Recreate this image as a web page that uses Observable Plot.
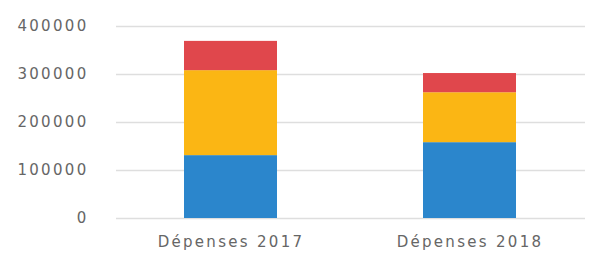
<!DOCTYPE html>
<html>
<head>
<meta charset="utf-8">
<script src="https://cdn.jsdelivr.net/npm/d3@7"></script>
<script src="https://cdn.jsdelivr.net/npm/@observablehq/plot@0.6"></script>
<style>
  html, body { margin: 0; padding: 0; background: #fff; }
  #chart svg { display: block; }
  #chart text { letter-spacing: 2.3px; }
</style>
</head>
<body>
<div id="chart"></div>
<script>
const categories = ["Dépenses 2017", "Dépenses 2018"];
const seriesNames = ["Série 1", "Série 2", "Série 3"];
const serie1 = [131000, 158000];
const serie2 = [177000, 104000];
const serie3 = [61000, 40000];
const yTicks = [0, 100000, 200000, 300000, 400000];
const colors = ["#2B86CC", "#FBB614", "#E0474C"];

const seriesValues = [serie1, serie2, serie3];
const rows = [];
seriesNames.forEach((s, i) => {
  categories.forEach((c, j) => {
    rows.push({category: c, series: s, value: seriesValues[i][j]});
  });
});

const chart = Plot.plot({
  width: 590,
  height: 259,
  marginLeft: 116,
  marginRight: 5,
  marginTop: 26,
  marginBottom: 41,
  style: {fontFamily: "DejaVu Sans", fontSize: "15px", color: "#666", background: "#fff"},
  x: {domain: categories, paddingInner: 0.61, paddingOuter: 0.286, label: null},
  y: {domain: [0, 400000], label: null},
  color: {domain: seriesNames, range: colors},
  marks: [
    Plot.gridY(yTicks, {stroke: "#dedede", strokeOpacity: 1, strokeWidth: 1.5}),
    Plot.barY(rows, {x: "category", y: "value", fill: "series"}),
    Plot.axisY(yTicks, {tickSize: 0, tickPadding: 28, tickFormat: d => String(d), label: null, fill: "#666"}),
    Plot.axisX({tickSize: 0, tickPadding: 18, label: null, fill: "#666"})
  ]
});
document.getElementById("chart").appendChild(chart);
</script>
</body>
</html>
